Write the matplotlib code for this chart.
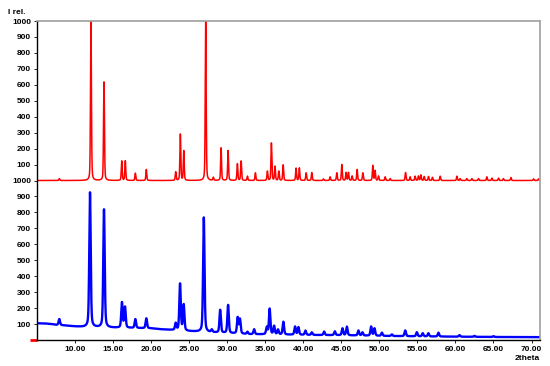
import numpy as np
import matplotlib
matplotlib.use("Agg")
import matplotlib.pyplot as plt

# ---- data ----
# reference (red) pattern: peak positions (2theta) and relative intensities
red_pos = [7.97, 12.13, 13.84, 16.17, 16.64, 17.96, 19.40, 23.26, 23.87, 24.32,
           27.20, 28.20, 29.22, 30.14, 31.36, 31.85, 32.68, 33.73, 35.30, 35.83,
           36.30, 36.80, 37.37, 39.07, 39.50, 40.39, 41.14, 42.66, 43.54, 44.42,
           45.08, 45.64, 45.95, 46.43, 47.09, 47.84, 49.15, 49.45, 49.90, 50.77,
           51.43, 53.45, 54.05, 54.70, 55.14, 55.46, 55.90, 56.46, 56.98, 58.00,
           60.20, 60.62, 61.50, 62.16, 63.03, 64.13, 64.79, 65.66, 66.30, 67.29,
           70.26, 70.90]
red_int = [12, 1000, 618, 122, 124, 46, 69, 54, 290, 186,
           1000, 19, 205, 188, 105, 122, 27, 48, 58, 235,
           88, 58, 98, 77, 79, 48, 50, 10, 23, 48,
           100, 50, 50, 28, 69, 48, 94, 62, 28, 23,
           12, 50, 23, 27, 28, 35, 25, 25, 20, 27,
           27, 12, 12, 12, 12, 23, 15, 15, 12, 19,
           10, 10]

# measured (blue) pattern: peaks above background
blue_pos = [7.97, 12.00, 13.84, 16.20, 16.60, 17.96, 19.40, 23.26, 23.83, 24.31,
            26.95, 28.00, 29.10, 30.14, 31.40, 31.70, 32.68, 33.56, 35.22, 35.60,
            36.18, 36.70, 37.40, 38.94, 39.38, 40.30, 41.14, 42.75, 44.16, 45.16,
            45.74, 47.26, 47.79, 48.93, 49.37, 50.34, 51.65, 53.40, 54.93, 55.70,
            56.45, 57.77, 60.53, 62.50, 65.00]
blue_int = [38, 845, 740, 158, 130, 55, 62, 43, 292, 162,
            718, 16, 143, 176, 100, 90, 14, 31, 44, 160,
            52, 30, 80, 51, 47, 27, 16, 22, 24, 43,
            54, 31, 20, 57, 46, 20, 10, 36, 26, 20,
            20, 24, 10, 6, 5]
# measured background level
bg_pos = [5, 6, 7, 7.5, 9, 10, 11, 12, 14, 16, 18, 20, 21, 22, 23, 25, 27,
          30, 33, 36, 40, 45, 50, 55, 60, 65, 71.2]
bg_val = [105, 104, 100, 95, 90, 85, 82, 80, 78, 76, 75, 73, 68, 65, 62, 55, 50,
          43, 36, 35, 32, 30, 26, 23, 21, 19, 18]

# axis ticks / labels
x_ticks = [10, 15, 20, 25, 30, 35, 40, 45, 50, 55, 60, 65, 70]
x_labels = ["10.00", "15.00", "20.00", "25.00", "30.00", "35.00", "40.00",
            "45.00", "50.00", "55.00", "60.00", "65.00", "70.00"]
y_ticks = [100, 200, 300, 400, 500, 600, 700, 800, 900, 1000,
           1100, 1200, 1300, 1400, 1500, 1600, 1700, 1800, 1900, 2000]
y_labels = ["100", "200", "300", "400", "500", "600", "700", "800", "900", "1000",
            "100", "200", "300", "400", "500", "600", "700", "800", "900", "1000"]
offset = 1000


def profile(x, pos, inten, fwhm, eta=0.5):
    y = np.zeros_like(x)
    for p, h in zip(pos, inten):
        d = (x - p) / (fwhm / 2)
        lor = 1.0 / (1 + d ** 2)
        gau = np.exp(-np.log(2) * d ** 2)
        y += h * (eta * lor + (1 - eta) * gau)
    return y


x = np.linspace(5, 71.2, 8000)
red = profile(x, red_pos, red_int, 0.14, 0.35)
blue = np.interp(x, bg_pos, bg_val) + profile(x, blue_pos, blue_int, 0.22, 0.4)

plt.rcParams["font.family"] = ["Liberation Sans", "DejaVu Sans"]

fig = plt.figure(figsize=(5.5, 3.66), dpi=100)
ax = fig.add_axes([0.0667, 0.0710, 0.9157, 0.8716])
ax.plot(x, blue, color="#0000ff", lw=1.7)
ax.plot(x, offset + red, color="#ff0000", lw=1.1)
ax.set_xlim(5, 71.15)
ax.set_ylim(0, 2000)

ax.set_xticks(x_ticks)
ax.set_xticklabels(x_labels, fontsize=6, fontweight="bold")
ax.set_yticks(y_ticks)
ax.set_yticklabels(y_labels, fontsize=6, fontweight="bold")
ax.tick_params(axis="both", length=2, width=0.6, pad=2)

for s in ["left", "bottom"]:
    ax.spines[s].set_color("black")
    ax.spines[s].set_linewidth(1.0)
for s in ["top", "right"]:
    ax.spines[s].set_color("#a0a0a0")
    ax.spines[s].set_linewidth(1.2)

# red zero marker at lower left
ax.plot([-0.013, 0], [0, 0], transform=ax.transAxes, color="#ff0000",
        lw=2, clip_on=False, solid_capstyle="butt")

fig.text(8 / 550, 1 - 12 / 366, "I rel.", fontsize=6, fontweight="bold",
         ha="left", va="center")
fig.text(540 / 550, 1 - 359 / 366, "2theta", fontsize=6, fontweight="bold",
         ha="right", va="center")

fig.savefig("out.png", dpi=100)
